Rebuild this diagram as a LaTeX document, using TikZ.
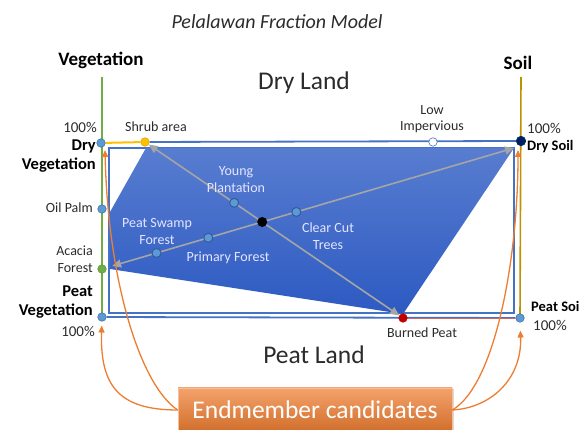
\documentclass[tikz,border=0pt]{standalone}
\usepackage{fontspec}
\setmainfont{Carlito}
\usetikzlibrary{arrows.meta,shadows}

\definecolor{frameblue}{HTML}{4472C4}
\definecolor{dotblue}{HTML}{5B9BD5}
\definecolor{dotedge}{HTML}{41719C}
\definecolor{polytop}{HTML}{587DD0}
\definecolor{polybot}{HTML}{2D5AC2}
\definecolor{veggreen}{HTML}{70AD47}
\definecolor{soilgold}{HTML}{BF9000}
\definecolor{shrubyellow}{HTML}{FFC000}
\definecolor{candorange}{HTML}{ED7D31}
\definecolor{candlight}{HTML}{F4A26B}
\definecolor{navydot}{HTML}{002060}
\definecolor{peatred}{HTML}{C00000}
\definecolor{arrowgray}{HTML}{A5A5A5}
\definecolor{labelgray}{HTML}{2B2B2B}

\pgfdeclarelayer{back}
\pgfdeclarelayer{mid}
\pgfsetlayers{back,mid,main}

\begin{document}
\begin{tikzpicture}[x=1pt, y=-1pt,
    enddot/.style={circle, draw=dotedge, fill=dotblue, line width=0.6pt, inner sep=0pt, minimum size=8.5pt},
    mixdot/.style={circle, draw=frameblue!80!black, fill=dotblue, line width=1pt, inner sep=0pt, minimum size=9pt},
    outlabel/.style={font=\fontsize{14}{16.5}\selectfont, text=labelgray, align=center, inner sep=0pt},
    pct/.style={font=\fontsize{15}{18}\selectfont, text=labelgray, inner sep=0pt},
    inlabel/.style={font=\fontsize{14}{17}\selectfont, text=white!90!blue, align=center, inner sep=0pt},
    endname/.style={font=\bfseries\fontsize{16.5}{19.5}\selectfont, align=right, inner sep=0pt},
    soilname/.style={font=\bfseries\fontsize{14.5}{17}\selectfont, inner sep=0pt},
    axisname/.style={font=\bfseries\fontsize{19}{22}\selectfont, inner sep=0pt},
    land/.style={font=\fontsize{25.5}{30}\selectfont, text=labelgray, inner sep=0pt},
    mixline/.style={arrowgray, line width=1.6pt, {Triangle[length=9pt,width=8pt]}-{Triangle[length=9pt,width=8pt]}},
    candarrow/.style={candorange, line width=1.3pt, -{Triangle[length=7pt,width=6pt]}},
    candbox/.style={top color=candlight, bottom color=candorange!88!black, draw=candlight!70!white, line width=0.6pt,
        minimum width=274pt, minimum height=44pt, text=white, font=\fontsize{25.5}{30}\selectfont,
        drop shadow={shadow xshift=1.5pt, shadow yshift=-1.5pt, opacity=0.3}},
]
    \useasboundingbox (0,0) rectangle (579,430);

    % Title, axis names and land types
    \node[font=\itshape\fontsize{20}{23}\selectfont, text=labelgray] (title) at (277,22) {Pelalawan Fraction Model};
    \node[axisname] (vegname) at (101,60) {Vegetation};
    \node[axisname] (soilname) at (518,63) {Soil};
    \node[land] (dryland) at (304,83) {Dry Land};
    \node[land] (peatland) at (314,355) {Peat Land};

    % Corners of the frame and of the mixing area
    \coordinate (vegtop) at (102,77);
    \coordinate (soiltop) at (521,77);
    \coordinate (polyNW) at (146,148);
    \coordinate (polyNE) at (514,148);
    \coordinate (polyS) at (403,314);
    \coordinate (polySW) at (110,269);
    \coordinate (polyW) at (110,212);
    \coordinate (dryvegtip) at (105,150);
    \coordinate (drysoiltip) at (518,150);

    % Endmember dots
    \node[enddot] (dryveg) at (101,143) {};
    \node[enddot, fill=shrubyellow, draw=shrubyellow!85!black] (shrub) at (145,142) {};
    \node[enddot, fill=white, draw=frameblue] (lowimp) at (433,142) {};
    \node[enddot, fill=navydot, draw=navydot, minimum size=9.5pt] (drysoil) at (521,141) {};
    \node[enddot] (oilpalm) at (102,209) {};
    \node[enddot, fill=veggreen, draw=veggreen!85!black] (acacia) at (102,269) {};
    \node[enddot] (peatveg) at (102,317) {};
    \node[enddot, fill=peatred, draw=peatred] (burned) at (403,318) {};
    \node[enddot] (peatsoil) at (520,318) {};

    % Frame and mixing area
    \begin{pgfonlayer}{back}
        \draw[frameblue, line width=1.3pt, fill=white, drop shadow={shadow xshift=1.2pt, shadow yshift=-1.2pt, opacity=0.35}]
            (109,148) rectangle (514,313);
        \shade[top color=polytop, bottom color=polybot] (polyNW) -- (polyNE) -- (polyS) -- (polySW) -- (polyW) -- cycle;
    \end{pgfonlayer}

    \begin{pgfonlayer}{mid}
        \draw[veggreen, line width=2pt] (vegtop) -- (peatveg.center);
        \draw[soilgold, line width=1.6pt] (soiltop) -- (peatsoil.center);
        \draw[shrubyellow, line width=2pt] (dryveg) -- (shrub);
        \draw[frameblue, line width=1.8pt] (shrub) -- (drysoil);
        \draw[frameblue, line width=1.8pt] (peatveg) -- (peatsoil);
        \draw[peatred!60, line width=0.8pt] (burned) -- (peatsoil);
        \draw[mixline, shorten <=6pt] (acacia) -- (polyNE);
        \draw[mixline] (shrub) -- (burned);
    \end{pgfonlayer}

    % Mixtures on the lines
    \node[circle, fill=black, inner sep=0pt, minimum size=10pt] (mix) at (intersection of acacia--polyNE and shrub--burned) {};
    \path (acacia) -- (polyNE)
        node[mixdot, pos=0.123] (peatswamp) {}
        node[mixdot, pos=0.25] (primary) {}
        node[mixdot, pos=0.466] (clearcut) {};
    \path (shrub) -- (burned) node[mixdot, pos=0.341] (young) {};

    % Labels inside
    \node[inlabel] (youngtext) at (236,180) {Young\\Plantation};
    \node[inlabel] (peatswamptext) at (157,232) {Peat Swamp\\Forest};
    \node[inlabel] (primarytext) at (228,258) {Primary Forest};
    \node[inlabel] (clearcuttext) at (328,236) {Clear Cut\\Trees};

    % Labels outside
    \node[pct, anchor=east] (dryvegpct) at (97,127) {100\%};
    \node[endname, anchor=east] (dryvegtext) at (96,156) {Dry\\Vegetation};
    \node[outlabel] (shrubtext) at (156,127) {Shrub area};
    \node[outlabel] (lowimptext) at (432,119) {Low\\Impervious};
    \node[pct, anchor=west] (drysoilpct) at (527,128) {100\%};
    \node[soilname, anchor=west] (drysoiltext) at (527,147) {Dry Soil};
    \node[outlabel, anchor=east] (oilpalmtext) at (93,208) {Oil Palm};
    \node[outlabel, anchor=east, align=right] (acaciatext) at (93,259) {Acacia\\Forest};
    \node[endname, anchor=east] (peatvegtext) at (93,302) {Peat\\Vegetation};
    \node[pct, anchor=east] (peatvegpct) at (95,331) {100\%};
    \node[outlabel] (burnedtext) at (422,333) {Burned Peat};
    \node[soilname, anchor=west] (peatsoiltext) at (531,306) {Peat Soil};
    \node[pct, anchor=west] (peatsoilpct) at (533,325) {100\%};

    % Endmember candidates
    \node[candbox] (cand) at (315,410) {Endmember candidates};
    \draw[candarrow] (cand.west) .. controls (140,385) and (108,280) .. (dryvegtip);
    \draw[candarrow, shorten >=4pt] (cand.west) .. controls (118,410) and (100,385) .. (peatveg);
    \draw[candarrow] (cand.east) .. controls (495,385) and (518,260) .. (drysoiltip);
    \draw[candarrow, shorten >=8pt] (cand.east) .. controls (490,408) and (522,380) .. (peatsoil);
\end{tikzpicture}
\end{document}
